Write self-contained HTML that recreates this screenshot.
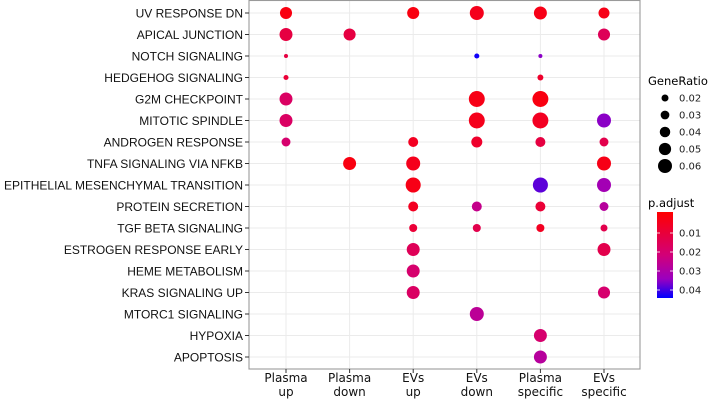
<!DOCTYPE html>
<html><head><meta charset="utf-8"><style>
body{margin:0;background:#fff;}
svg text{font-family:"Liberation Sans","DejaVu Sans",sans-serif;}
svg text.dv{font-family:"DejaVu Sans","Liberation Sans",sans-serif;}
</style></head><body>
<svg id="chart" width="708" height="400" xmlns="http://www.w3.org/2000/svg">
<defs><linearGradient id="pg" x1="0" y1="0" x2="0" y2="1">
<stop offset="0" stop-color="#FF0000"/><stop offset="0.5" stop-color="#D20078"/><stop offset="0.78" stop-color="#9A00C0"/><stop offset="1" stop-color="#0000FF"/></linearGradient></defs>
<g id="grid"></g>
<g id="dots"></g>
<rect x="249" y="0.5" width="391" height="368.5" fill="none" stroke="#9a9a9a" stroke-width="1.1"/>
<g id="yaxis"></g>
<g id="xaxis"></g>
<g id="legend">
<text class="dv" x="648" y="85" font-size="11.5">GeneRatio</text>
<text class="dv" x="648" y="207" font-size="11.5">p.adjust</text>
<rect x="657" y="212" width="16" height="86" fill="url(#pg)"/>
</g>
</svg>
<script>
const categories = ["Plasma up","Plasma down","EVs up","EVs down","Plasma specific","EVs specific"];
const pathways = ["UV RESPONSE DN","APICAL JUNCTION","NOTCH SIGNALING","HEDGEHOG SIGNALING","G2M CHECKPOINT","MITOTIC SPINDLE","ANDROGEN RESPONSE","TNFA SIGNALING VIA NFKB","EPITHELIAL MESENCHYMAL TRANSITION","PROTEIN SECRETION","TGF BETA SIGNALING","ESTROGEN RESPONSE EARLY","HEME METABOLISM","KRAS SIGNALING UP","MTORC1 SIGNALING","HYPOXIA","APOPTOSIS"];
// each point: [pathwayIndex, categoryIndex]
const pointRow = [0,0,0,0,0, 1,1,1, 2,2,2, 3,3, 4,4,4, 5,5,5,5, 6,6,6,6,6, 7,7,7, 8,8,8, 9,9,9,9, 10,10,10,10, 11,11, 12, 13,13, 14, 15, 16];
const pointCol = [0,2,3,4,5, 0,1,5, 0,3,4, 0,4, 0,3,4, 0,3,4,5, 0,2,3,4,5, 1,2,5, 2,4,5, 2,3,4,5, 2,3,4,5, 2,5, 2, 2,5, 3, 4, 4];
const geneRatio = [0.049,0.049,0.060,0.054,0.043, 0.054,0.049,0.049, 0.003,0.009,0.003, 0.009,0.014, 0.054,0.071,0.071, 0.054,0.071,0.071,0.060, 0.031,0.037,0.043,0.037,0.031, 0.054,0.060,0.060, 0.066,0.066,0.060, 0.037,0.037,0.037,0.031, 0.026,0.026,0.026,0.020, 0.054,0.054, 0.054, 0.054,0.049, 0.060, 0.054, 0.054];
const pAdjust = [0.003,0.003,0.005,0.004,0.004, 0.012,0.012,0.016, 0.012,0.043,0.035, 0.010,0.008, 0.018,0.004,0.003, 0.018,0.005,0.006,0.035, 0.020,0.006,0.008,0.012,0.014, 0.003,0.005,0.004, 0.004,0.038,0.032, 0.006,0.025,0.010,0.028, 0.010,0.014,0.006,0.014, 0.016,0.014, 0.020, 0.018,0.020, 0.027, 0.020, 0.028];
const sizeLegendValues = [0.02,0.03,0.04,0.05,0.06];
const colorLegendValues = [0.01,0.02,0.03,0.04];

const NS="http://www.w3.org/2000/svg";
const x = i => 286 + i*63.6;
const y = j => 13 + j*21.5;
const rScale = g => 3.5 + (g-0.02)*87.5;
const pY = p => 214 + p*1900;
function lerp(a,b,t){return a+(b-a)*t;}
function pColor(p){
  const stops=[[0,[255,0,0]],[0.022,[210,0,120]],[0.034,[154,0,192]],[0.044,[0,0,255]]];
  p=Math.max(0,Math.min(0.044,p));
  for(let k=0;k<stops.length-1;k++){
    if(p<=stops[k+1][0]){const t=(p-stops[k][0])/(stops[k+1][0]-stops[k][0]);
      const c=stops[k][1].map((v,i)=>Math.round(lerp(v,stops[k+1][1][i],t)));
      return `rgb(${c[0]},${c[1]},${c[2]})`;}
  }
  return "rgb(0,0,255)";
}
function mk(tag,attrs,parent){const e=document.createElementNS(NS,tag);for(const k in attrs)e.setAttribute(k,attrs[k]);parent.appendChild(e);return e;}
const grid=document.getElementById('grid'),dots=document.getElementById('dots'),ya=document.getElementById('yaxis'),xa=document.getElementById('xaxis'),lg=document.getElementById('legend');
pathways.forEach((p,j)=>{
  const l=mk('line',{x1:249,x2:640,y1:y(j),y2:y(j),stroke:'#ebebeb','stroke-width':1},grid);
  
  
  const t=mk('line',{x1:245,x2:249,y1:y(j),y2:y(j),stroke:'#333','stroke-width':1},ya);
  
  
  const tx=mk('text',{x:243,y:y(j)+4.3,'text-anchor':'end','font-size':12,fill:'#111'},ya);
  tx.textContent=p;
  
  
});
categories.forEach((c,i)=>{
  const l=mk('line',{x1:x(i),x2:x(i),y1:0,y2:369,stroke:'#ebebeb','stroke-width':1},grid);
  
  
  const t=mk('line',{x1:x(i),x2:x(i),y1:369,y2:373,stroke:'#333','stroke-width':1},xa);
  
  
  const parts=c.split(' ');
  parts.forEach((s,k)=>{
    const tx=mk('text',{x:x(i),y:382+k*14,'text-anchor':'middle','font-size':12,fill:'#111','class':'dv'},xa);
    tx.textContent=s;
    
    
  });
});
pointRow.forEach((rw,k)=>{
  const c=mk('circle',{cx:x(pointCol[k]),cy:y(rw),r:rScale(geneRatio[k]),fill:pColor(pAdjust[k])},dots);
  
  
});
sizeLegendValues.forEach((v,k)=>{
  const cy=98+k*17;
  const c=mk('circle',{cx:665,cy:cy,r:rScale(v),fill:'#000'},lg);
  
  
  const t=mk('text',{x:679,y:cy+3.5,'font-size':10,fill:'#222','class':'dv'},lg);
  t.textContent=v.toFixed(2);
  
  
});
colorLegendValues.forEach(v=>{
  const yy=pY(v);
  const a=mk('line',{x1:657,x2:660,y1:yy,y2:yy,stroke:'#fff','stroke-width':0.8},lg);
  
  
  const b=mk('line',{x1:670,x2:673,y1:yy,y2:yy,stroke:'#fff','stroke-width':0.8},lg);
  
  
  const t=mk('text',{x:679,y:yy+3.5,'font-size':10,fill:'#222','class':'dv'},lg);
  t.textContent=v.toFixed(2);
  
  
});
</script>
</body></html>
